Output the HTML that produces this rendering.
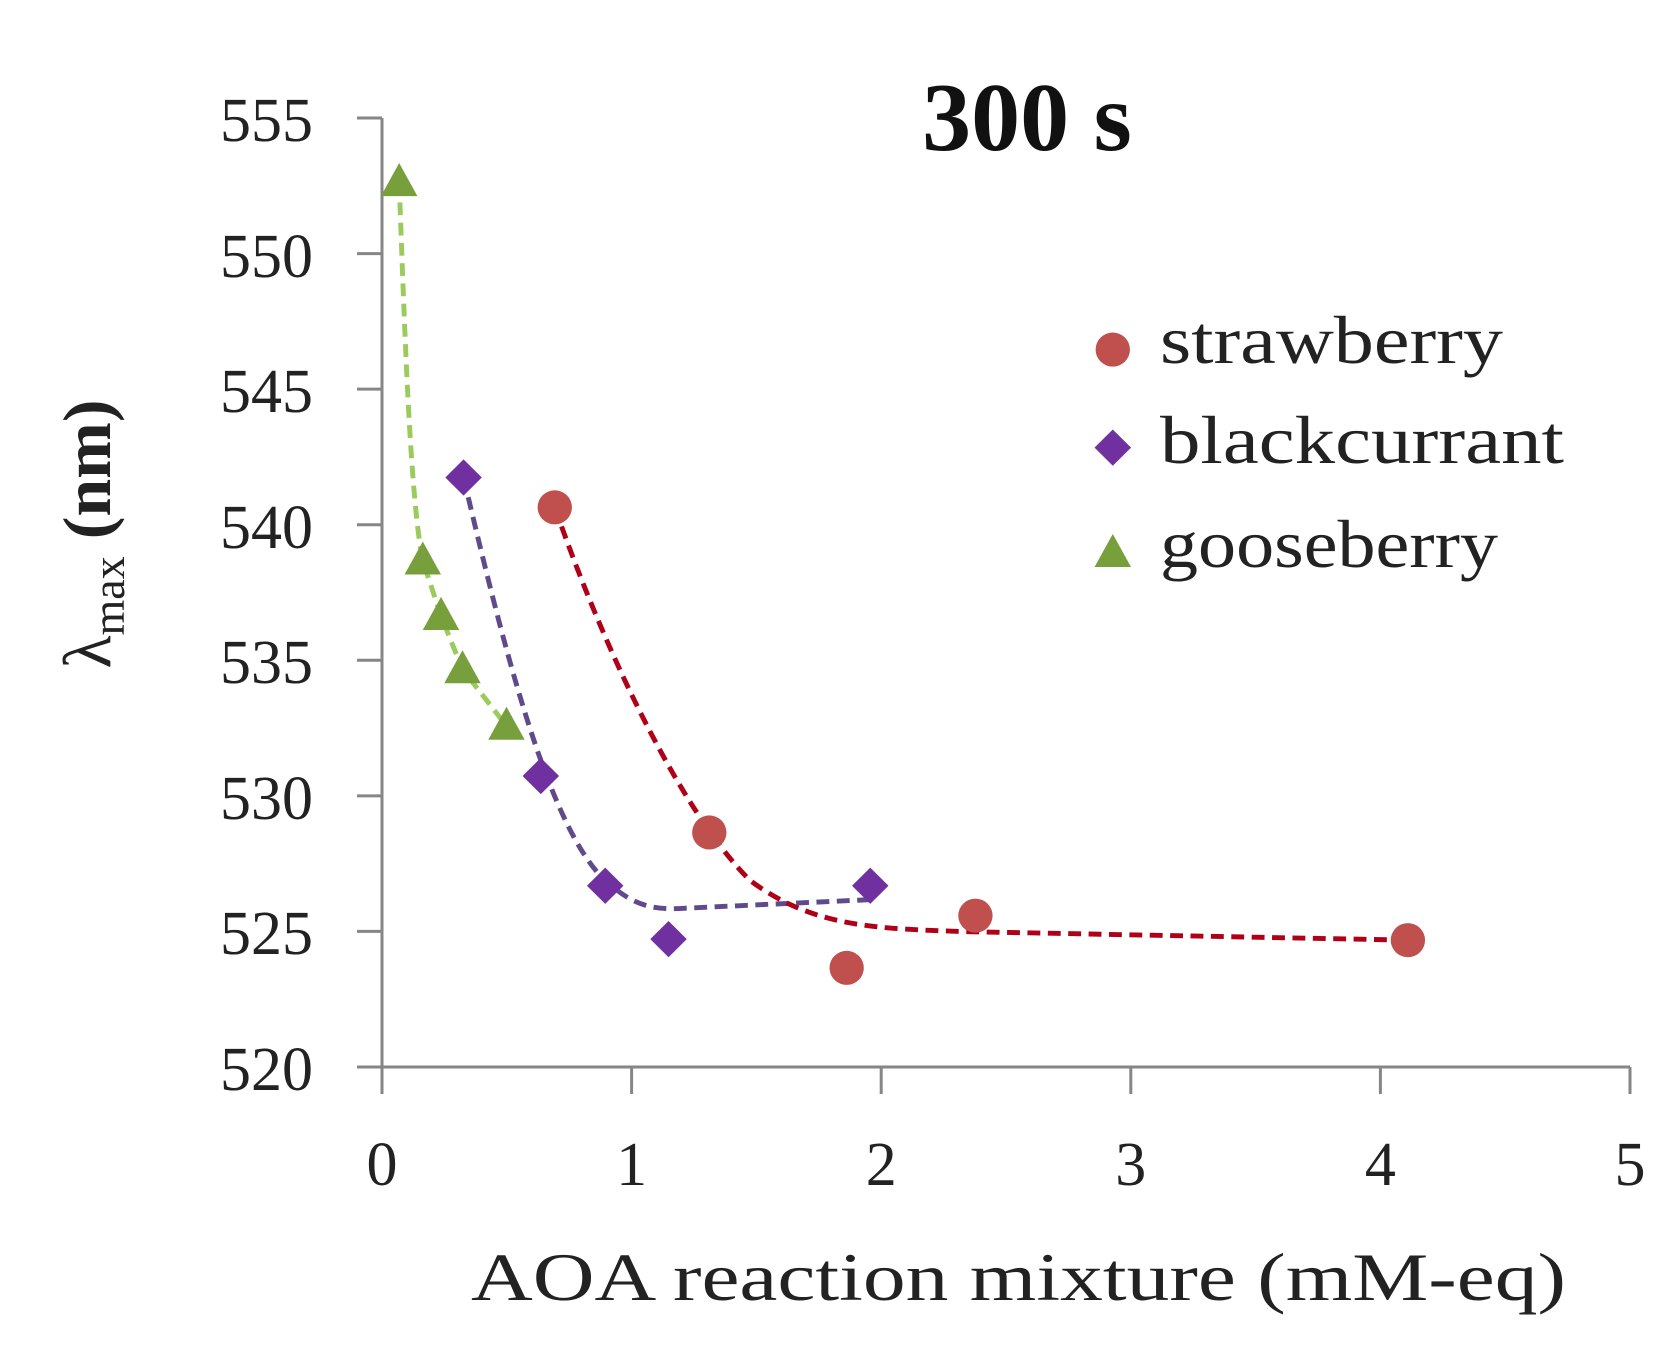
<!DOCTYPE html>
<html><head><meta charset="utf-8"><style>html,body{margin:0;padding:0;background:#fff}svg{display:block}</style></head>
<body>
<svg width="1680" height="1366" viewBox="0 0 1680 1366" xmlns="http://www.w3.org/2000/svg" font-family="'Liberation Serif', serif">
<rect width="1680" height="1366" fill="#fff"/>
<g stroke="#868686" stroke-width="3" fill="none">
<line x1="382" y1="118" x2="382" y2="1067"/>
<line x1="357" y1="1067" x2="1630" y2="1067"/>
<line x1="357" y1="118" x2="382" y2="118"/>
<line x1="357" y1="253.6" x2="382" y2="253.6"/>
<line x1="357" y1="389.1" x2="382" y2="389.1"/>
<line x1="357" y1="524.7" x2="382" y2="524.7"/>
<line x1="357" y1="660.3" x2="382" y2="660.3"/>
<line x1="357" y1="795.9" x2="382" y2="795.9"/>
<line x1="357" y1="931.4" x2="382" y2="931.4"/>
<line x1="382" y1="1067" x2="382" y2="1094"/>
<line x1="631.6" y1="1067" x2="631.6" y2="1094"/>
<line x1="881.2" y1="1067" x2="881.2" y2="1094"/>
<line x1="1130.8" y1="1067" x2="1130.8" y2="1094"/>
<line x1="1380.4" y1="1067" x2="1380.4" y2="1094"/>
<line x1="1630" y1="1067" x2="1630" y2="1094"/>
</g>
<g font-size="62" fill="#222" text-anchor="end">
<text x="313" y="141">555</text>
<text x="313" y="277">550</text>
<text x="313" y="412">545</text>
<text x="313" y="548">540</text>
<text x="313" y="683">535</text>
<text x="313" y="819">530</text>
<text x="313" y="954">525</text>
<text x="313" y="1090">520</text>
</g>
<g font-size="62" fill="#222" text-anchor="middle">
<text x="382" y="1185">0</text>
<text x="631.6" y="1185">1</text>
<text x="881.2" y="1185">2</text>
<text x="1130.8" y="1185">3</text>
<text x="1380.4" y="1185">4</text>
<text x="1630" y="1185">5</text>
</g>
<text x="471" y="1300" font-size="68" fill="#222" textLength="1095" lengthAdjust="spacingAndGlyphs">AOA reaction mixture (mM-eq)</text>
<text x="1027" y="150" font-size="98" font-weight="bold" fill="#111" text-anchor="middle">300 s</text>
<g transform="translate(110,534) rotate(-90)">
<text x="0" y="0" text-anchor="middle" font-size="68" fill="#222">λ<tspan font-size="46" dy="14">max</tspan><tspan dy="-14" font-weight="bold"> (nm)</tspan></text>
</g>
<g transform="translate(382,1067) scale(1.0731,1.066) translate(-357,-995)">
<g fill="none" stroke-width="4.6" stroke-dasharray="12,7">
<path d="M373,165 C378,300 383,460 395,520 L412,572 L432,622 L473,675" stroke="#9bcb5c"/>
<path d="M433,442 C470,600 510,760 560,815 C590,845 610,848 640,846 L812,838" stroke="#604a8b"/>
<path d="M518,470 C570,620 640,760 700,820 C760,865 820,865 900,868 L1313,876" stroke="#b00018"/>
</g>
<g fill="#77a03c">
<path d="M373,147 L390,178 L356,178Z"/>
<path d="M395,502 L412,533 L378,533Z"/>
<path d="M412,554 L429,585 L395,585Z"/>
<path d="M432,604 L449,635 L415,635Z"/>
<path d="M473,657 L490,688 L456,688Z"/>
<path d="M1038,495 L1055,526 L1021,526Z"/>
</g>
<g fill="#7030a0">
<path d="M433,425 L450,442 L433,459 L416,442Z"/>
<path d="M505,705 L522,722 L505,739 L488,722Z"/>
<path d="M565,808 L582,825 L565,842 L548,825Z"/>
<path d="M624,858 L641,875 L624,892 L607,875Z"/>
<path d="M812,808 L829,825 L812,842 L795,825Z"/>
<path d="M1038,397 L1055,414 L1038,431 L1021,414Z"/>
</g>
<g fill="#c0504d">
<circle cx="518" cy="470" r="16"/>
<circle cx="662" cy="775" r="16"/>
<circle cx="790" cy="902" r="16"/>
<circle cx="910" cy="853" r="16"/>
<circle cx="1313" cy="876" r="16"/>
<circle cx="1038" cy="322" r="16"/>
</g>
</g>
<g font-size="68" fill="#222">
<text x="1160" y="363" textLength="343" lengthAdjust="spacingAndGlyphs">strawberry</text>
<text x="1160" y="463" textLength="404" lengthAdjust="spacingAndGlyphs">blackcurrant</text>
<text x="1160" y="567" textLength="338" lengthAdjust="spacingAndGlyphs">gooseberry</text>
</g>
</svg>
</body></html>
